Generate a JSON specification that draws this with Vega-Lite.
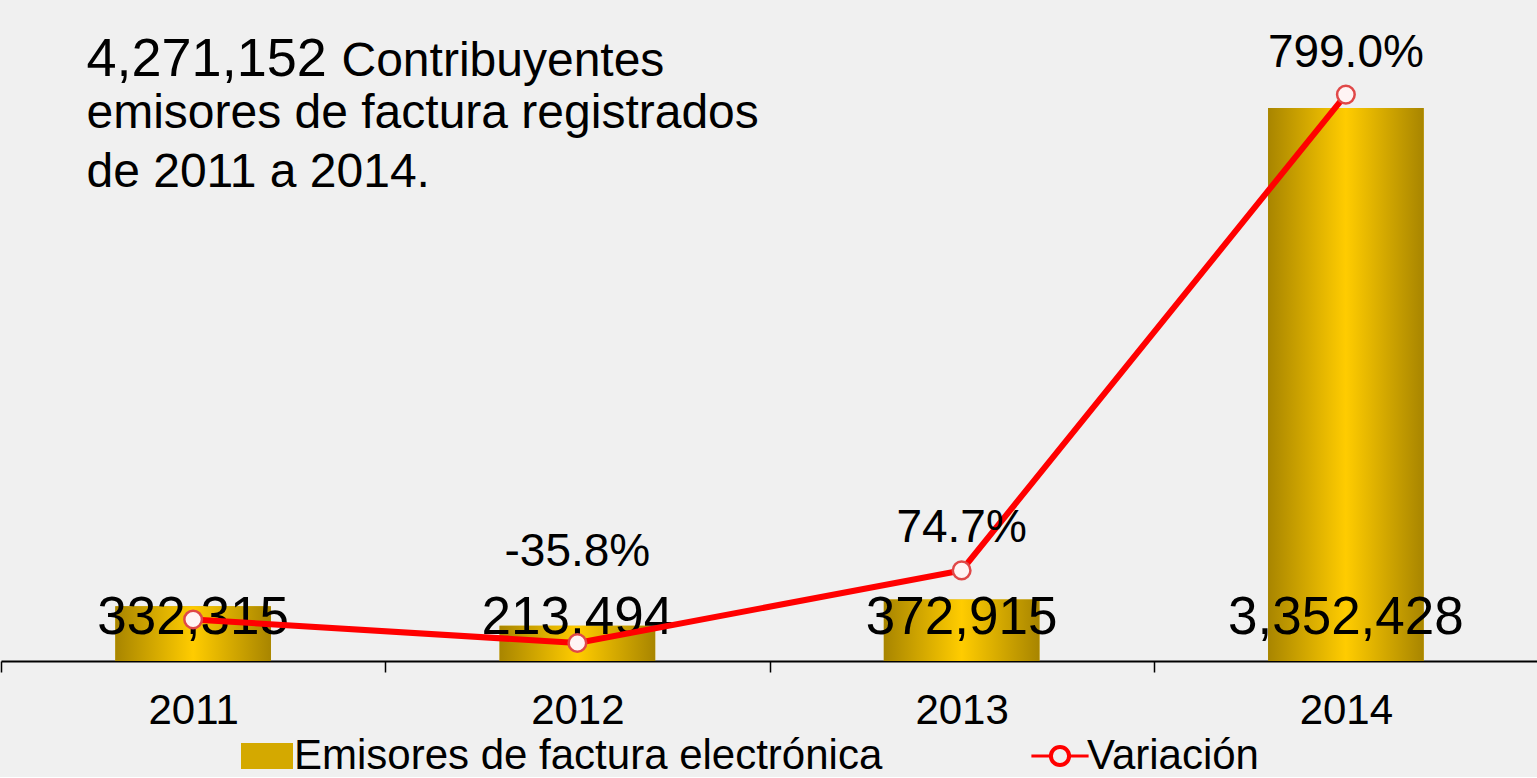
{
  "$schema": "https://vega.github.io/schema/vega-lite/v6.json",
  "width": 1537,
  "height": 661,
  "padding": 0,
  "background": "#f0f0f0",
  "config": {"view": {"stroke": null}, "font": "Liberation Sans"},
  "data": {"values": [
    {"anio": "2011", "emisores": 332315, "variacion": 0, "etiqueta": ""},
    {"anio": "2012", "emisores": 213494, "variacion": -35.8, "etiqueta": "-35.8%"},
    {"anio": "2013", "emisores": 372915, "variacion": 74.7, "etiqueta": "74.7%"},
    {"anio": "2014", "emisores": 3352428, "variacion": 799.0, "etiqueta": "799.0%"}
  ]},
  "encoding": {
    "x": {
      "field": "anio", "type": "nominal",
      "scale": {"paddingInner": 0, "paddingOuter": 0},
      "axis": {
        "title": ["emisores de factura registrados", "de 2011 a 2014."],
        "titleX": 85, "titleY": -534, "titleAlign": "left",
        "titleBaseline": "alphabetic", "titleFontSize": 48, "titleFontWeight": "normal",
        "titleLineHeight": 59, "titleColor": "black",
        "labelFontSize": 42, "labelAngle": 0, "labelColor": "black", "labelPadding": 18,
        "tickBand": "extent", "tickSize": 11, "tickColor": "black", "tickWidth": 1.5,
        "domainColor": "black", "domainWidth": 2, "grid": false
      }
    }
  },
  "layer": [
    {
      "encoding": {
        "y": {
          "field": "emisores", "type": "quantitative",
          "scale": {"domain": [0, 4007000]},
          "axis": {
            "title": "4,271,152", "titleAngle": 0, "titleX": 85, "titleY": 75,
            "titleAlign": "left", "titleBaseline": "alphabetic", "titleFontSize": 54,
            "titleFontWeight": "normal", "titleColor": "black",
            "labels": false, "ticks": false, "domain": false, "grid": false
          }
        }
      },
      "layer": [
        {
          "mark": {"type": "bar", "width": {"band": 0.405}},
          "encoding": {
            "color": {
              "datum": "Emisores de factura electrónica", "type": "nominal",
              "scale": {"domain": ["Emisores de factura electrónica", "Variación"], "range": ["#d4a900", "#ff0000"]},
              "legend": {
                "orient": "none", "legendX": 245, "legendY": 735, "direction": "horizontal",
                "title": null, "labelFontSize": 42, "labelColor": "black", "labelOffset": 6,
                "labelLimit": 0, "symbolStrokeWidth": 3,
                "symbolSize": 2704, "columnPadding": 142, "padding": 0,
                "encode": {
                  "symbols": {
                    "update": {
                      "shape": {"signal": "datum.value === 'Variación' ? 'M-1.1,0H-0.37M0.37,0H1.1M-0.37,0A0.37,0.37 0 1 1 0.37,0A0.37,0.37 0 1 1 -0.37,0ZM-0.33,0A0.33,0.33 0 1 0 0.33,0A0.33,0.33 0 1 0 -0.33,0Z' : 'M-1,-0.5H1V0.5H-1Z'"},
                      "stroke": {"signal": "datum.value === 'Variación' ? '#ff0000' : 'transparent'"},
                      "strokeWidth": {"signal": "datum.value === 'Variación' ? 3 : 0"},
                      "opacity": {"value": 1}
                    }
                  }
                }
              }
            }
          }
        },
        {
          "mark": {
            "type": "bar", "width": {"band": 0.405},
            "color": {"gradient": "linear", "x1": 0, "x2": 1, "y1": 0, "y2": 0,
              "stops": [{"offset": 0, "color": "#a88500"}, {"offset": 0.5, "color": "#ffcc00"}, {"offset": 1, "color": "#a88500"}]}
          }
        },
        {
          "mark": {"type": "text", "baseline": "alphabetic", "dy": -27, "fontSize": 53, "color": "black"},
          "encoding": {
            "y": {"datum": 0},
            "text": {"field": "emisores", "type": "quantitative", "format": ","}
          }
        }
      ]
    },
    {
      "encoding": {
        "y": {
          "field": "variacion", "type": "quantitative",
          "scale": {"domain": [-63.2, 943]},
          "axis": {
            "orient": "right",
            "title": "Contribuyentes", "titleAngle": 0, "titleX": -1197, "titleY": 75,
            "titleAlign": "left", "titleBaseline": "alphabetic", "titleFontSize": 48,
            "titleFontWeight": "normal", "titleColor": "black",
            "labels": false, "ticks": false, "domain": false, "grid": false
          }
        }
      },
      "layer": [
        {
          "mark": {"type": "line", "strokeWidth": 6},
          "encoding": {
            "color": {
              "datum": "Variación", "type": "nominal",
              "legend": {
                "orient": "none", "legendX": 245, "legendY": 735, "direction": "horizontal",
                "title": null, "labelFontSize": 42, "labelColor": "black", "labelOffset": 6,
                "labelLimit": 0, "symbolStrokeWidth": 3,
                "symbolSize": 2704, "columnPadding": 142, "padding": 0,
                "encode": {
                  "symbols": {
                    "update": {
                      "shape": {"signal": "datum.value === 'Variación' ? 'M-1.1,0H-0.37M0.37,0H1.1M-0.37,0A0.37,0.37 0 1 1 0.37,0A0.37,0.37 0 1 1 -0.37,0ZM-0.33,0A0.33,0.33 0 1 0 0.33,0A0.33,0.33 0 1 0 -0.33,0Z' : 'M-1,-0.5H1V0.5H-1Z'"},
                      "stroke": {"signal": "datum.value === 'Variación' ? '#ff0000' : 'transparent'"},
                      "strokeWidth": {"signal": "datum.value === 'Variación' ? 3 : 0"},
                      "opacity": {"value": 1}
                    }
                  }
                }
              }
            }
          }
        },
        {
          "mark": {"type": "point", "filled": true, "fill": "#fff4f4", "stroke": "#e04848", "strokeWidth": 2.5, "size": 310, "opacity": 1}
        },
        {
          "transform": [{"filter": "datum.anio == '2013' || datum.anio == '2014'"}],
          "mark": {"type": "text", "baseline": "alphabetic", "dy": -28, "fontSize": 46, "color": "black"},
          "encoding": {"text": {"field": "etiqueta"}}
        },
        {
          "transform": [{"filter": "datum.anio == '2012'"}],
          "mark": {"type": "text", "baseline": "alphabetic", "dy": -77, "fontSize": 46, "color": "black"},
          "encoding": {"text": {"field": "etiqueta"}}
        }
      ]
    }
  ],
  "resolve": {"scale": {"y": "independent"}}
}
